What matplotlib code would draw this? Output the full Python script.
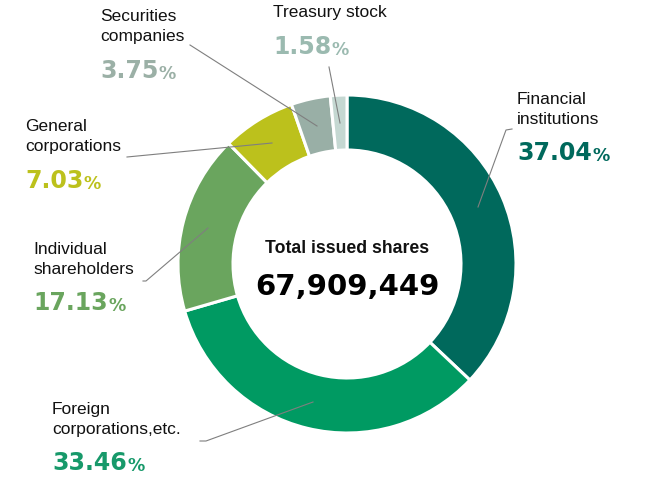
import matplotlib
matplotlib.use('Agg')
import matplotlib.pyplot as plt

W, H = 670, 494

categories = ['Financial institutions', 'Foreign corporations,etc.', 'Individual shareholders',
              'General corporations', 'Securities companies', 'Treasury stock']
label_text = ['Financial\ninstitutions', 'Foreign\ncorporations,etc.', 'Individual\nshareholders',
              'General\ncorporations', 'Securities\ncompanies', 'Treasury stock']
shares = [37.04, 33.46, 17.13, 7.03, 3.75, 1.58]
total_shares = '67,909,449'

wedge_colors = ['#00695c', '#009a62', '#6aa55e', '#bcc11c', '#99afa6', '#c5d8d2']
pct_colors = ['#00695c', '#17996a', '#6aa55e', '#bcc11c', '#9bb0a6', '#9bbab0']

# label layout in pixel coords (x, y from top): name block top-left, percent top-left
name_pos = [(517, 92), (52, 402), (33, 242), (25, 119), (100, 9), (273, 5)]
pct_pos = [(517, 141), (52, 451), (33, 291), (25, 169), (100, 59), (273, 35)]
leaders = [
    [(512, 129), (506, 130), (478, 207)],
    [(200, 441), (206, 441), (313, 402)],
    [(143, 281), (146, 281), (208, 228)],
    [(127, 157), (272, 143)],
    [(190, 45), (317, 126)],
    [(329, 67), (340, 123)],
]

cx, cy, r_out, r_in = 347, 264, 169, 114

fig = plt.figure(figsize=(W / 100, H / 100), dpi=100)
ax = fig.add_axes([0, 0, 1, 1])

ax.pie(shares, colors=wedge_colors, startangle=90, counterclock=False,
       radius=r_out, center=(cx, H - cy),
       wedgeprops=dict(width=r_out - r_in, edgecolor='white', linewidth=2.2))

for pts in leaders:
    xs = [p[0] for p in pts]
    ys = [H - p[1] for p in pts]
    ax.plot(xs, ys, color='#7f7f7f', lw=0.8, zorder=5)

for i in range(len(categories)):
    nx, ny = name_pos[i]
    ax.text(nx, H - ny, label_text[i], ha='left', va='top', fontsize=12.5,
            family='Liberation Sans', color='#111111', linespacing=1.42)
    px, py = pct_pos[i]
    t = ax.text(px, H - py, '%.2f' % shares[i], ha='left', va='top', fontsize=17,
                family='DejaVu Sans', weight='bold', color=pct_colors[i])
    ax.annotate('%', xy=(1, 0), xycoords=t, xytext=(0.3, 0), textcoords='offset points',
                ha='left', va='bottom', fontsize=12.5, family='DejaVu Sans',
                weight='bold', color=pct_colors[i])

ax.text(cx, H - 249, 'Total issued shares', ha='center', va='center', fontsize=12.7,
        family='Liberation Sans', weight='bold', color='#111111')
ax.text(cx, H - 287, total_shares, ha='center', va='center', fontsize=21,
        family='DejaVu Sans', weight='bold', color='#000000')

ax.set_xlim(0, W)
ax.set_ylim(0, H)
ax.set_aspect('equal')
ax.axis('off')

fig.savefig('out.png', dpi=100, facecolor='white')
